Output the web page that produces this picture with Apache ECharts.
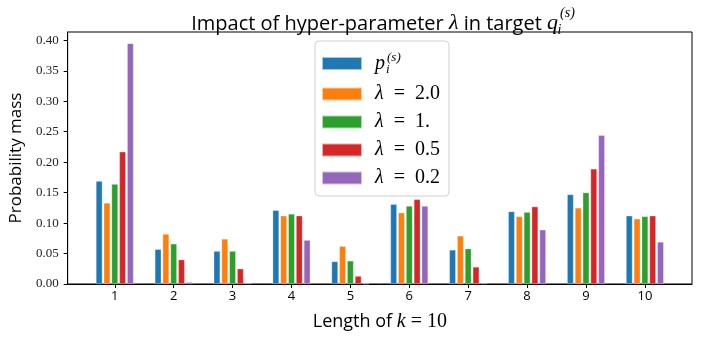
<!DOCTYPE html>
<html>
<head>
<meta charset="utf-8">
<script src="https://cdn.jsdelivr.net/npm/echarts@6/dist/echarts.min.js"></script>
<style>
  html, body { margin: 0; padding: 0; background: #fff; }
  #chart { width: 715px; height: 337px; }
</style>
</head>
<body>
<div id="chart"></div>
<script>
// Lengths of the sequence (x positions of the bar groups)
const lengths = [1, 2, 3, 4, 5, 6, 7, 8, 9, 10];

// Probability mass per position, for the base distribution and each lambda
const baseP    = [0.169, 0.057, 0.054, 0.121, 0.037, 0.131, 0.056, 0.119, 0.147, 0.112];
const lam20    = [0.133, 0.082, 0.074, 0.112, 0.062, 0.117, 0.079, 0.111, 0.125, 0.107];
const lam10    = [0.164, 0.066, 0.054, 0.115, 0.038, 0.128, 0.058, 0.118, 0.150, 0.111];
const lam05    = [0.217, 0.040, 0.025, 0.112, 0.013, 0.139, 0.028, 0.127, 0.189, 0.112];
const lam02    = [0.395, 0.003, 0.002, 0.072, 0.0005, 0.128, 0.002, 0.089, 0.244, 0.069];

const seriesNames = ['p', 'l20', 'l10', 'l05', 'l02'];
const seriesData  = [baseP, lam20, lam10, lam05, lam02];
const colors = ['#1f77b4', '#ff7f0e', '#2ca02c', '#d62728', '#9467bd'];

const yTicks = [0, 0.05, 0.10, 0.15, 0.20, 0.25, 0.30, 0.35, 0.40];

const SANS = 'Open Sans';
const SERIF = 'Liberation Serif';

// Legend labels written as rich text (math italic symbols)
const legendLabels = {
  p:   '{m|p}{sb|i}{sp|(s)}',
  l20: '{m|λ}{n|  =  2.0}',
  l10: '{m|λ}{n|  =  1.}',
  l05: '{m|λ}{n|  =  0.5}',
  l02: '{m|λ}{n|  =  0.2}'
};

const chart = echarts.init(document.getElementById('chart'), null, { renderer: 'canvas' });

const option = {
  animation: false,
  color: colors,
  title: {
    left: 378,
    top: 1,
    textAlign: 'center',
    text: '{a|Impact of hyper-parameter }{m|λ}{a| in target }{m|q}{sb|i}{sp|(s)}',
    textStyle: {
      fontWeight: 'normal',
      rich: {
        a:  { fontFamily: SANS, fontWeight: 'normal', fontSize: 20, color: '#000', lineHeight: 31, verticalAlign: 'bottom', padding: [0, 0, 3, 0] },
        m:  { fontFamily: SERIF, fontWeight: 'normal', fontStyle: 'italic', fontSize: 22, color: '#000', verticalAlign: 'bottom', padding: [0, 0, 3, 0] },
        sb: { fontFamily: SERIF, fontWeight: 'normal', fontStyle: 'italic', fontSize: 14, color: '#000', verticalAlign: 'bottom', width: 1, padding: [0, 0, 0, 1] },
        sp: { fontFamily: SERIF, fontWeight: 'normal', fontStyle: 'italic', fontSize: 14, color: '#000', verticalAlign: 'top' }
      }
    }
  },
  legend: {
    orient: 'vertical',
    left: 315,
    top: 41,
    padding: [10, 9, 8, 6],
    itemWidth: 40,
    itemHeight: 13,
    itemGap: 8,
    icon: 'rect',
    borderColor: '#d0d0d0',
    borderWidth: 1,
    borderRadius: 4,
    backgroundColor: 'rgba(255,255,255,0.85)',
    data: seriesNames,
    formatter: function (name) { return legendLabels[name]; },
    textStyle: {
      padding: [0, 0, 0, 8],
      rich: {
        m:  { fontFamily: SERIF, fontStyle: 'italic', fontSize: 20, color: '#000', lineHeight: 24 },
        n:  { fontFamily: SERIF, fontSize: 20, color: '#000', lineHeight: 24 },
        sb: { fontFamily: SERIF, fontStyle: 'italic', fontSize: 13, color: '#000', width: 1, lineHeight: 10, padding: [12, 0, 0, 1] },
        sp: { fontFamily: SERIF, fontStyle: 'italic', fontSize: 13, color: '#000', lineHeight: 10, padding: [0, 0, 12, 0] }
      }
    }
  },
  grid: {
    left: 67,
    right: 23,
    top: 32,
    bottom: 50,
    show: true,
    borderColor: '#000',
    borderWidth: 1,
    backgroundColor: 'transparent'
  },
  xAxis: {
    type: 'value',
    min: 0.2,
    max: 10.8,
    name: '{a|Length of }{m|k}{n| = 10}',
    nameLocation: 'middle',
    nameGap: 28,
    nameTextStyle: {
      rich: {
        a: { fontFamily: SANS, fontSize: 18, color: '#000' },
        m: { fontFamily: SERIF, fontStyle: 'italic', fontSize: 20, color: '#000' },
        n: { fontFamily: SERIF, fontSize: 20, color: '#000' }
      }
    },
    axisLine: { show: true, lineStyle: { color: '#000', width: 1 } },
    axisTick: { show: true, customValues: lengths, length: 4, lineStyle: { color: '#000' } },
    axisLabel: {
      customValues: lengths,
      fontFamily: SANS,
      fontSize: 13,
      color: '#000',
      margin: 6
    },
    splitLine: { show: false }
  },
  yAxis: {
    type: 'value',
    min: 0,
    max: 0.4137,
    name: 'Probability mass',
    nameLocation: 'middle',
    nameGap: 37,
    nameTextStyle: { fontFamily: SANS, fontSize: 17, color: '#000' },
    axisLine: { show: true, lineStyle: { color: '#000', width: 1 } },
    axisTick: { show: true, customValues: yTicks, length: 4, lineStyle: { color: '#000' } },
    axisLabel: {
      customValues: yTicks,
      formatter: function (v) { return v.toFixed(2); },
      fontFamily: SERIF,
      fontSize: 13,
      color: '#222',
      margin: 9
    },
    splitLine: { show: false }
  },
  series: seriesNames.map(function (name, i) {
    return {
      name: name,
      type: 'bar',
      barWidth: 6.4,
      barGap: '22%',
      data: lengths.map(function (x, j) { return [x, seriesData[i][j]]; }),
      itemStyle: { color: colors[i], borderColor: 'rgba(255,255,255,0.6)', borderWidth: 0.5 }
    };
  })
};

chart.setOption(option);
</script>
</body>
</html>
